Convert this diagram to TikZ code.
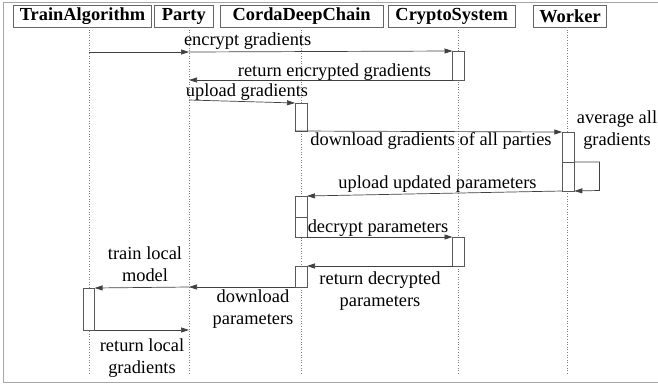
\documentclass[tikz,border=0pt]{standalone}
\usepackage{fontspec}
\setmainfont{Liberation Serif}
\usetikzlibrary{arrows.meta}
\begin{document}
\begin{tikzpicture}[x=1pt,y=-1pt,
  every node/.style={font=\fontsize{18.4}{22}\selectfont, inner sep=0pt, outer sep=0pt},
  hdr/.style={draw=gray!80!black, line width=0.8pt, minimum height=22pt, font=\fontsize{18.4}{22}\selectfont\bfseries},
  life/.style={draw=gray, dotted, line width=0.6pt},
  act/.style={draw=gray!70!black, fill=white, line width=0.7pt, minimum width=12pt},
  msg/.style={draw=black!75, line width=0.7pt, -{Triangle[length=8pt,width=5pt]}},
  lbl/.style={align=center}
]
\clip (0,0) rectangle (658,383);
\draw[gray!70, line width=1pt] (3,2) rectangle (664,382);

% headers
\node[hdr, minimum width=138.4pt] (ta) at (82.5,16) {TrainAlgorithm};
\node[hdr, minimum width=59pt] (pa) at (183.8,16) {Party};
\node[hdr, minimum width=163pt] (cdc) at (301.6,16) {CordaDeepChain};
\node[hdr, minimum width=126.7pt] (cs) at (451.7,16) {CryptoSystem};
\node[hdr, minimum width=73.3pt] (wk) at (570,16) {Worker};

% lifeline coordinates
\coordinate (taT) at (89,27);   \coordinate (taB) at (89,373);
\coordinate (paT) at (189,27);  \coordinate (paB) at (189,373);
\coordinate (cdcT) at (301,27); \coordinate (cdcB) at (301,373);
\coordinate (csT) at (458,27);  \coordinate (csB) at (458,373);
\coordinate (wkT) at (567,27);  \coordinate (wkB) at (567,373);
\draw[life] (taT) -- (taB);
\draw[life] (paT) -- (paB);
\draw[life] (cdcT) -- (cdcB);
\draw[life] (csT) -- (csB);
\draw[life] (wkT) -- (wkB);

% activations
\node[act, minimum height=29pt] (csA1) at (458.5,65.5) {};
\node[act, minimum height=28pt] (cdcA1) at (301,117) {};
\node[act, minimum height=59pt] (wkA1) at (568.3,161.5) {};
\node[act, minimum height=29pt] (wkA2) at (568.3,176.5) {};
\node[act, minimum height=41pt] (cdcA2) at (301,216.5) {};
\node[act, minimum height=20pt] (cdcA3) at (301,227) {};
\node[act, minimum height=29pt] (csA2) at (458.5,251.5) {};
\node[act, minimum height=21pt] (cdcA4) at (301,276.5) {};
\node[act, minimum height=42pt, minimum width=11.5pt] (taA1) at (88.8,309) {};

% message coordinates
\coordinate (m1a) at (89,52);
\coordinate (m1b) at (189,52);
\coordinate (m1c) at (csA1.north west);
\coordinate (m2a) at (csA1.south west);
\coordinate (m2b) at (189,80);
\coordinate (m3a) at (189,100);
\coordinate (m3b) at (cdcA1.north west);
\coordinate (m4a) at (cdcA1.south west);
\coordinate (m4b) at (wkA1.north west);
\coordinate (s1) at (wkA2.north east);
\coordinate (s2) at (599.5,162);
\coordinate (s3) at (599.5,190.5);
\coordinate (s4) at (wkA2.south east);
\coordinate (m5a) at (wkA1.south west);
\coordinate (m5b) at (cdcA2.north east);
\coordinate (m6a) at (cdcA2.south east);
\coordinate (m6b) at (csA2.north west);
\coordinate (m7a) at (csA2.south west);
\coordinate (m7b) at (cdcA4.north east);
\coordinate (m8a) at (cdcA4.south west);
\coordinate (m8b) at (189,287);
\coordinate (m8c) at (taA1.north east);
\coordinate (m9a) at (taA1.south east);
\coordinate (m9b) at (189,330);

% messages
\draw[msg] (m1a) -- (m1b);
\draw[msg] (m1b) -- (m1c);
\draw[msg] (m2a) -- (m2b);
\draw[msg] (m3a) -- (m3b);
\draw[msg] (m4a) -- (m4b);
\draw[msg] (s1) -- (s2) -- (s3) -- (s4);
\draw[msg] (m5a) -- (m5b);
\draw[msg] (m6a) -- (m6b);
\draw[msg] (m7a) -- (m7b);
\draw[msg] (m8a) -- (m8b);
\draw[msg] (m8b) -- (m8c);
\draw[msg] (m9a) -- (m9b);

% labels
\node[lbl, anchor=west] (l1) at (184,41) {encrypt gradients};
\node[lbl] (l2) at (334.5,72) {return encrypted gradients};
\node[lbl] (l3) at (247,92) {upload gradients};
\node[lbl] (l4) at (431,141) {download gradients of all parties};
\node[lbl] (l5) at (617,130.5) {average all\\gradients};
\node[lbl] (l6) at (437.5,184) {upload updated parameters};
\node[lbl] (l7) at (378,228) {decrypt parameters};
\node[lbl] (l8) at (380,291) {return decrypted\\parameters};
\node[lbl] (l9) at (253,309) {download\\parameters};
\node[lbl] (l10) at (145,264) {train local\\model};
\node[lbl] (l11) at (142,358.5) {return local\\gradients};
\end{tikzpicture}
\end{document}
